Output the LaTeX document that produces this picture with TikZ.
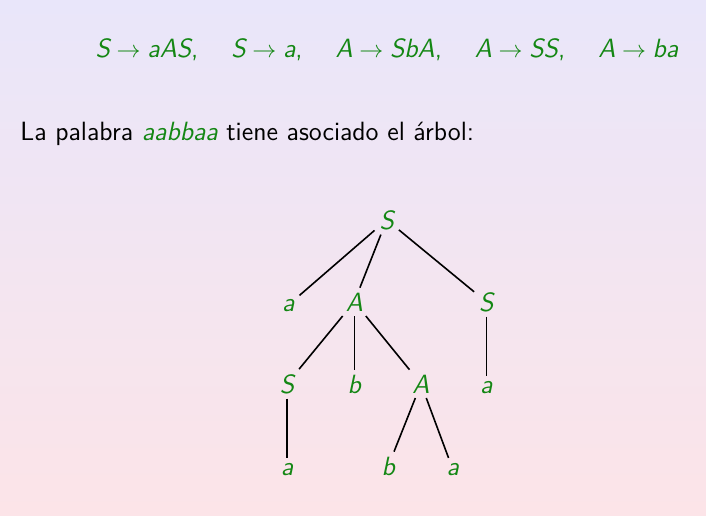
\documentclass[tikz,border=0pt]{standalone}
\usepackage{fontspec}
\definecolor{grn}{RGB}{20,135,20}
\definecolor{bgtop}{RGB}{233,230,250}
\definecolor{bgbot}{RGB}{252,228,232}
\newcommand\gv[1]{\mbox{\itshape #1}}
\newcommand\rsep{,\hspace{1.25em}}
\begin{document}
\begin{tikzpicture}[x=0.5pt,y=-0.5pt,
  every node/.style={font=\fontsize{13.2}{15}\selectfont\sffamily},
  lt/.style={text=grn, font=\fontsize{13.2}{15}\selectfont\sffamily\itshape, inner sep=2.3pt, anchor=base},
  edge/.style={line width=0.8pt}]
\useasboundingbox (0,0) rectangle (706,515);
\shade[top color=bgtop, bottom color=bgbot] (0,0) rectangle (706,515);
\node[anchor=base, text=grn, inner sep=0] (rules) at (387,57)
  {$\gv{S}\rightarrow\gv{aAS}$\rsep$\gv{S}\rightarrow\gv{a}$\rsep$\gv{A}\rightarrow\gv{SbA}$\rsep$\gv{A}\rightarrow\gv{SS}$\rsep$\gv{A}\rightarrow\gv{ba}$};
\node[anchor=base west, inner sep=0] (txt) at (20,140)
  {La palabra \textcolor{grn}{\itshape aabbaa} tiene asociado el árbol:};
% tree
\node[lt] (r) at (386.7,229) {S};
\node[lt] (a1) at (288.3,311) {a};
\node[lt] (A1) at (354.3,311) {A};
\node[lt] (S1) at (486.3,311) {S};
\node[lt] (S2) at (287,393) {S};
\node[lt] (b2) at (354.3,393) {b};
\node[lt] (A2) at (421,393) {A};
\node[lt] (a2) at (486.3,393) {a};
\node[lt] (a3) at (287,475) {a};
\node[lt] (b3) at (388.3,475) {b};
\node[lt] (a4) at (452.7,475) {a};
\draw[edge] (r) -- (a1);
\draw[edge] (r) -- (A1);
\draw[edge] (r) -- (S1);
\draw[edge] (A1) -- (S2);
\draw[edge] (A1) -- (b2);
\draw[edge] (A1) -- (A2);
\draw[edge] (S1) -- (a2);
\draw[edge] (S2) -- (a3);
\draw[edge] (A2) -- (b3);
\draw[edge] (A2) -- (a4);
\end{tikzpicture}
\end{document}
